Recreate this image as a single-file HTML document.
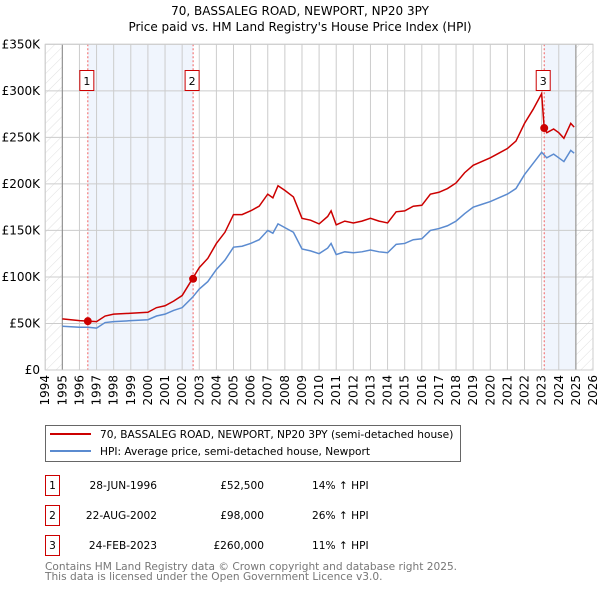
<!DOCTYPE html>
<html><head><meta charset="utf-8"><style>
body{margin:0;background:#fff;}
svg{display:block;font-family:"DejaVu Sans","Liberation Sans",sans-serif;}
</style></head><body>
<svg id="c" width="600" height="590" viewBox="0 0 600 590">
<defs><pattern id="hatch" patternUnits="userSpaceOnUse" width="7" height="7" patternTransform="rotate(45)"><line x1="0" y1="0" x2="0" y2="7" stroke="#d8d8d8" stroke-width="0.8"/></pattern></defs>
<text x="300" y="15" text-anchor="middle" font-size="12" fill="#000">70, BASSALEG ROAD, NEWPORT, NP20 3PY</text>
<text x="300" y="31" text-anchor="middle" font-size="12" fill="#000">Price paid vs. HM Land Registry's House Price Index (HPI)</text>
<g id="plot"></g>
<g>
<rect x="45.5" y="425.5" width="415" height="36" fill="#fff" stroke="#666"/>
<line x1="50" y1="434" x2="91" y2="434" stroke="#cc0000" stroke-width="2"/>
<text x="100" y="438" font-size="10.6">70, BASSALEG ROAD, NEWPORT, NP20 3PY (semi-detached house)</text>
<line x1="50" y1="451" x2="91" y2="451" stroke="#5b8bd0" stroke-width="2"/>
<text x="100" y="455" font-size="10.6">HPI: Average price, semi-detached house, Newport</text>
</g>
<g font-size="10.6">
<rect x="45.5" y="475.5" width="14" height="20" fill="none" stroke="#cc0000"/><text x="52.5" y="489" text-anchor="middle">1</text>
<text x="157" y="489" text-anchor="end">28-JUN-1996</text><text x="264" y="489" text-anchor="end">£52,500</text><text x="312" y="489">14% ↑ HPI</text>
<rect x="45.5" y="505.5" width="14" height="20" fill="none" stroke="#cc0000"/><text x="52.5" y="519" text-anchor="middle">2</text>
<text x="157" y="519" text-anchor="end">22-AUG-2002</text><text x="264" y="519" text-anchor="end">£98,000</text><text x="312" y="519">26% ↑ HPI</text>
<rect x="45.5" y="535.5" width="14" height="20" fill="none" stroke="#cc0000"/><text x="52.5" y="549" text-anchor="middle">3</text>
<text x="157" y="549" text-anchor="end">24-FEB-2023</text><text x="264" y="549" text-anchor="end">£260,000</text><text x="312" y="549">11% ↑ HPI</text>
</g>
<text x="45" y="570" font-size="10.6" fill="#777">Contains HM Land Registry data © Crown copyright and database right 2025.</text>
<text x="45" y="580" font-size="10.6" fill="#777">This data is licensed under the Open Government Licence v3.0.</text>
</svg>
<script>
const hpiYears=[1995,1996,1996.5,1997,1997.5,1998,1999,2000,2000.5,2001,2001.5,2002,2002.6,2003,2003.5,2004,2004.5,2005,2005.5,2006,2006.5,2007,2007.3,2007.6,2008,2008.5,2009,2009.5,2010,2010.5,2010.7,2011,2011.5,2012,2012.5,2013,2013.5,2014,2014.5,2015,2015.5,2016,2016.5,2017,2017.5,2018,2018.5,2019,2019.5,2020,2020.5,2021,2021.5,2022,2022.5,2023,2023.3,2023.7,2024,2024.3,2024.7,2024.9];
const hpiValues=[47,46,46,45,51,52,53,54,58,60,64,67,78,87,95,108,118,132,133,136,140,150,147,157,153,148,130,128,125,131,136,124,127,126,127,129,127,126,135,136,140,141,150,152,155,160,168,175,178,181,185,189,195,210,222,234,228,232,228,224,236,233];
const priceYears=[1995,1996,1996.5,1997,1997.5,1998,1999,2000,2000.5,2001,2001.5,2002,2002.6,2003,2003.5,2004,2004.5,2005,2005.5,2006,2006.5,2007,2007.3,2007.6,2008,2008.5,2009,2009.5,2010,2010.5,2010.7,2011,2011.5,2012,2012.5,2013,2013.5,2014,2014.5,2015,2015.5,2016,2016.5,2017,2017.5,2018,2018.5,2019,2019.5,2020,2020.5,2021,2021.5,2022,2022.5,2023.0,2023.15,2023.3,2023.7,2024,2024.3,2024.7,2024.9];
const priceValues=[55,53,52.5,52,58,60,61,62,67,69,74,80,98,110,120,136,148,167,167,171,176,189,185,198,193,186,163,161,157,165,171,156,160,158,160,163,160,158,170,171,176,177,189,191,195,201,212,220,224,228,233,238,246,265,280,297,260,255,259,255,249,265,261];
const saleYears=[1996.49,2002.64,2023.15];
const saleValues=[52.5,98,260];
const saleLabels=["1","2","3"];
const yTicks=[0,50,100,150,200,250,300,350];
const yTickLabels=["£0","£50K","£100K","£150K","£200K","£250K","£300K","£350K"];
const xTicks=[1994,1995,1996,1997,1998,1999,2000,2001,2002,2003,2004,2005,2006,2007,2008,2009,2010,2011,2012,2013,2014,2015,2016,2017,2018,2019,2020,2021,2022,2023,2024,2025,2026];

const X0=45.2,X1=593,Y0=370,Y1=44.3;
const x=v=>X0+(v-1994)/32*(X1-X0);
const y=v=>Y0-v/350*(Y0-Y1);
const NS="http://www.w3.org/2000/svg";
const g=document.getElementById('plot');
function mk(t,a,p){const e=document.createElementNS(NS,t);for(const k in a)e.setAttribute(k,a[k]);(p||g).appendChild(e);return e;}

let e=mk('rect',{x:x(1996.49),y:Y1,width:x(2002.64)-x(1996.49),height:Y0-Y1,fill:'#f0f5fd'});


e=mk('rect',{x:x(2023.15),y:Y1,width:x(2024.95)-x(2023.15),height:Y0-Y1,fill:'#f0f5fd'});


e=mk('rect',{x:X0,y:Y1,width:x(1995)-X0,height:Y0-Y1,fill:'url(#hatch)'});


e=mk('rect',{x:x(2025),y:Y1,width:X1-x(2025),height:Y0-Y1,fill:'url(#hatch)'});



yTicks.forEach((t,i)=>{
 const l=mk('line',{x1:X0,x2:X1,y1:y(t),y2:y(t),stroke:'#ccc'});
 
 
 const tx=mk('text',{x:40,y:y(t)+4,'text-anchor':'end','font-size':12});
 tx.textContent=yTickLabels[i];
 
 
});
xTicks.forEach(t=>{
 const l=mk('line',{x1:x(t),x2:x(t),y1:Y1,y2:Y0,stroke:'#ccc'});
 
 
 const tx=mk('text',{x:0,y:0,'text-anchor':'end','font-size':12,transform:`translate(${x(t)+4},${Y0+5}) rotate(-90)`});
 tx.textContent=t;
 
 
});
e=mk('line',{x1:x(1995),x2:x(1995),y1:Y1,y2:Y0,stroke:'#888'});


e=mk('line',{x1:x(2025),x2:x(2025),y1:Y1,y2:Y0,stroke:'#888'});



saleYears.forEach((s,i)=>{
 const l=mk('line',{x1:x(s),x2:x(s),y1:Y1,y2:Y0,stroke:'#f06060','stroke-dasharray':'2,2'});
 
 
});

e=mk('polyline',{points:hpiYears.map((v,i)=>x(v)+','+y(hpiValues[i])).join(' '),fill:'none',stroke:'#5b8bd0','stroke-width':1.5});


e=mk('polyline',{points:priceYears.map((v,i)=>x(v)+','+y(priceValues[i])).join(' '),fill:'none',stroke:'#cc0000','stroke-width':1.5});



saleYears.forEach((s,i)=>{
 const c=mk('circle',{cx:x(s),cy:y(saleValues[i]),r:4,fill:'#cc0000'});
 
 
 const bx=x(s)-7.5;
 const r=mk('rect',{x:bx-0.5,y:70.5,width:14,height:20,fill:'#fff',stroke:'#cc0000'});
 
 
 const t=mk('text',{x:x(s)-1,y:85,'text-anchor':'middle','font-size':11});
 t.textContent=saleLabels[i];
 
 
});
e=mk('rect',{x:X0,y:Y1,width:X1-X0,height:Y0-Y1,fill:'none',stroke:'#ccc'});


</script>
</body></html>
